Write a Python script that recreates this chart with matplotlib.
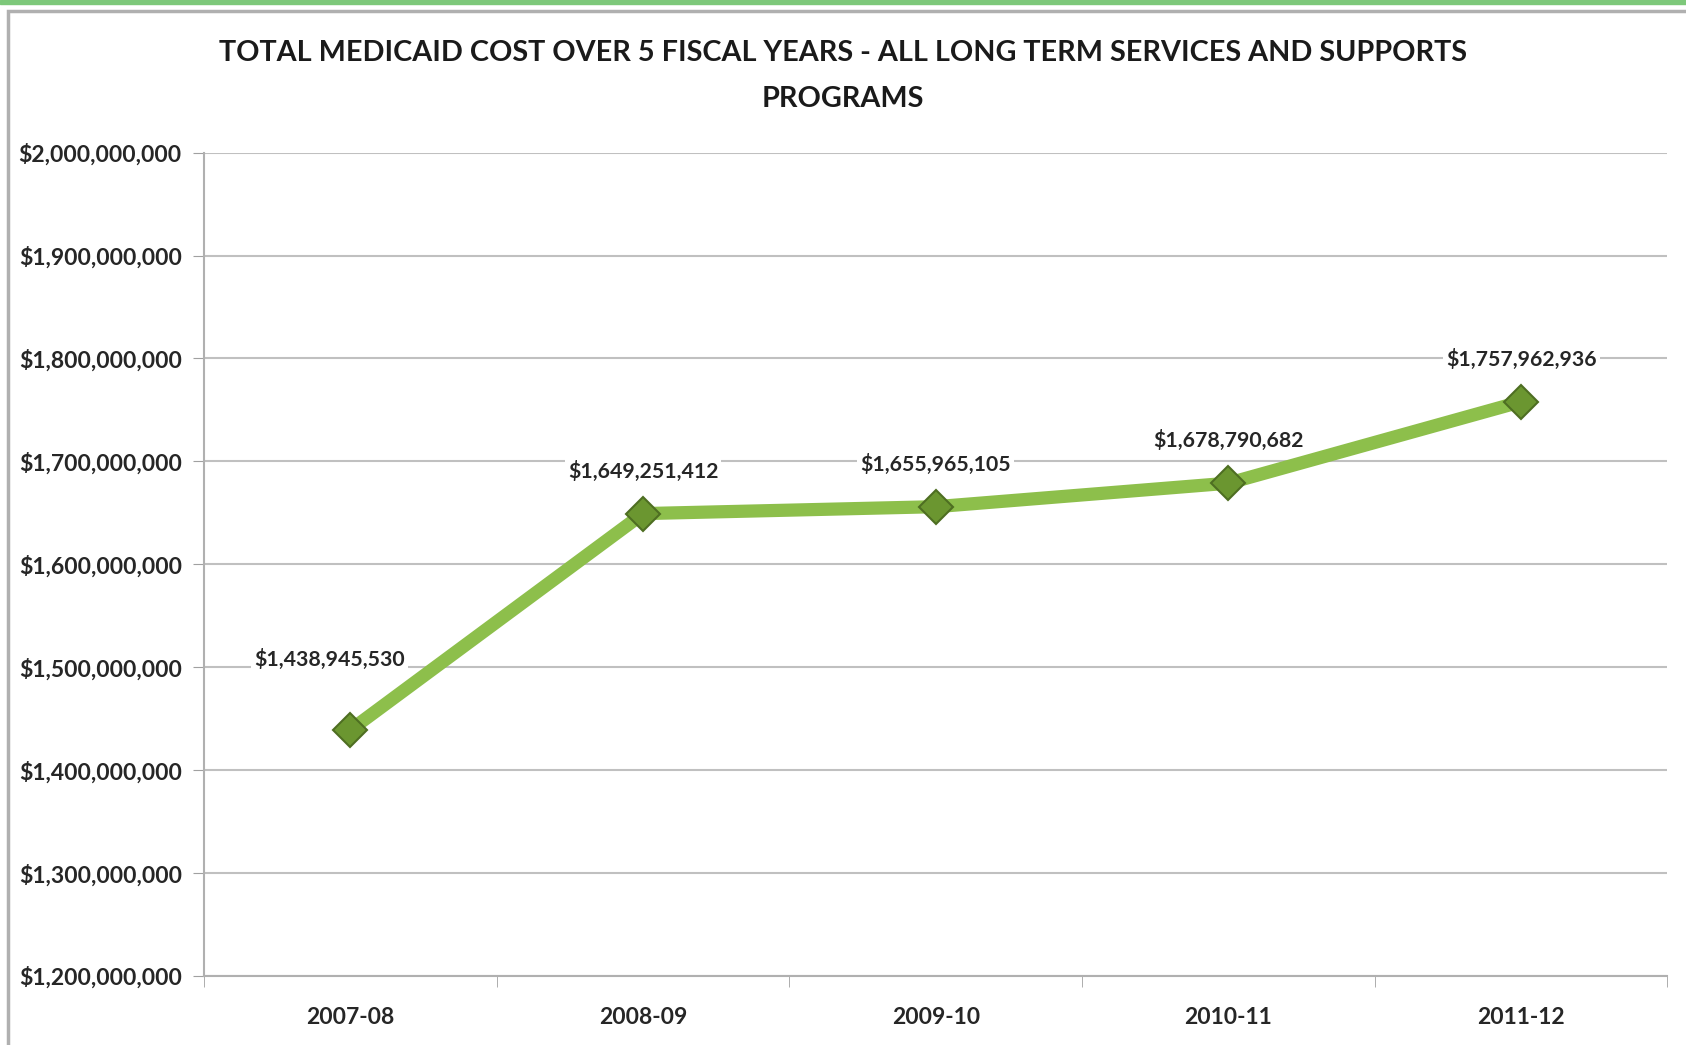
import matplotlib
matplotlib.use("Agg")
import matplotlib.pyplot as plt
from matplotlib.patches import Rectangle
from matplotlib.ticker import FuncFormatter, MultipleLocator

plt.rcParams["font.family"] = ["Lato", "DejaVu Sans"]

years = ["2007-08", "2008-09", "2009-10", "2010-11", "2011-12"]
costs = [1438945530, 1649251412, 1655965105, 1678790682, 1757962936]
title = ("TOTAL MEDICAID COST OVER 5 FISCAL YEARS - ALL LONG TERM SERVICES AND SUPPORTS\n"
         "PROGRAMS")

fig = plt.figure(figsize=(16.86, 10.45), dpi=100)
fig.patch.set_facecolor("white")

# green strip on top and grey frame of the chart area
fig.patches.append(Rectangle((0, 0.996), 1, 0.004, transform=fig.transFigure,
                             color="#7dc87a", zorder=0))
fig.patches.append(Rectangle((0.005, -0.01), 1.2, 0.999, transform=fig.transFigure,
                             fill=False, edgecolor="#b0b0b0", lw=2.5, zorder=0))

ax = fig.add_axes([0.121, 0.066, 0.868, 0.788])
x = list(range(len(years)))
ax.plot(x, costs, color="#8dbf4b", lw=9.5, solid_capstyle="round", zorder=3)
ax.plot(x, costs, ls="none", marker="D", markersize=17, markerfacecolor="#6b9630",
        markeredgecolor="#4e6e22", markeredgewidth=1.5, zorder=4)

# first label sits higher and a bit to the left, like the original
offsets = [(-15, 43), (0, 23), (0, 23), (0, 23), (0, 23)]
for xi, v, off in zip(x, costs, offsets):
    ax.annotate(f"${v:,.0f}", (xi, v), xytext=off, textcoords="offset points",
                ha="center", va="bottom", fontsize=15.3, fontweight="bold", color="#262626",
                bbox=dict(boxstyle="square,pad=0.15", fc="white", ec="none"), zorder=5)

ax.set_xlim(-0.5, len(years) - 0.5)
ax.set_ylim(1.2e9, 2.0e9)
ax.yaxis.set_major_locator(MultipleLocator(1e8))
ax.yaxis.set_major_formatter(FuncFormatter(lambda v, p: f"${v:,.0f}"))
ax.set_xticks(x)
ax.set_xticklabels(years)
ax.set_xticks([i - 0.5 for i in range(len(years) + 1)], minor=True)
ax.tick_params(axis="x", which="major", length=0, pad=22, labelsize=16.5)
ax.tick_params(axis="x", which="minor", length=8, color="#a0a0a0", direction="out")
ax.tick_params(axis="y", length=8, color="#a0a0a0", pad=8, labelsize=16.5)
for lab in ax.get_xticklabels() + ax.get_yticklabels():
    lab.set_fontweight("bold")
    lab.set_color("#262626")

ax.grid(axis="y", color="#c0c0c0", lw=1.5)
ax.set_axisbelow(True)
for side in ("top", "right"):
    ax.spines[side].set_visible(False)
for side in ("left", "bottom"):
    ax.spines[side].set_color("#b0b0b0")
    ax.spines[side].set_linewidth(1.5)

fig.text(0.5, 0.927, title, ha="center", va="center", fontsize=20.7, fontweight="bold",
         color="#1a1a1a", linespacing=1.95)

fig.savefig("out.png", dpi=100)
